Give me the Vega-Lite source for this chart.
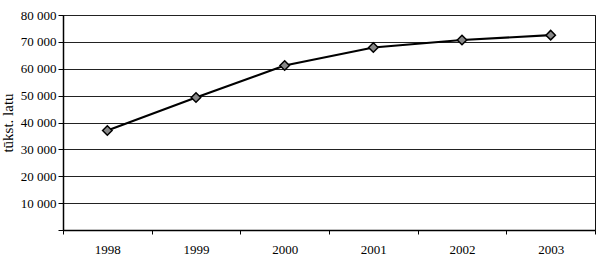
{
  "$schema": "https://vega.github.io/schema/vega-lite/v6.json",
  "width": 532,
  "height": 215,
  "autosize": {"type": "none"},
  "padding": {"left": 63, "top": 15, "right": 5, "bottom": 29},
  "background": "white",
  "config": {
    "font": "Liberation Serif",
    "view": {"stroke": "#111", "strokeWidth": 1},
    "axis": {"labelFont": "Liberation Serif", "titleFont": "Liberation Serif", "labelColor": "#000", "titleColor": "#000", "domainColor": "#000", "tickColor": "#000"}
  },
  "data": {
    "values": [
      {"year": "1998", "value": 37000},
      {"year": "1999", "value": 49300},
      {"year": "2000", "value": 61200},
      {"year": "2001", "value": 67900},
      {"year": "2002", "value": 70700},
      {"year": "2003", "value": 72500}
    ]
  },
  "encoding": {
    "x": {"field": "year", "type": "ordinal", "scale": {"type": "band", "paddingInner": 0, "paddingOuter": 0},
      "axis": {"title": null, "tickBand": "extent", "labelAngle": 0, "labelFontSize": 13, "labelPadding": 9, "tickSize": 4, "domainWidth": 1.5, "grid": false}},
    "y": {"field": "value", "type": "quantitative", "scale": {"domain": [0, 80000], "nice": false},
      "axis": {"title": "tūkst. latu", "titleFontSize": 15, "titleFontWeight": "normal", "titlePadding": 5, "values": [0, 10000, 20000, 30000, 40000, 50000, 60000, 70000, 80000],
        "labelOverlap": false,
        "labelExpr": "datum.value == 0 ? '' : replace(format(datum.value, ','), ',', ' ')", "labelFontSize": 13, "labelPadding": 2, "tickSize": 5, "domainWidth": 1.5,
        "grid": true, "gridColor": "#222", "gridWidth": 1, "gridOpacity": 1}}
  },
  "layer": [
    {
      "mark": {"type": "line", "color": "#000", "strokeWidth": 2.2}
    },
    {
      "mark": {"type": "point", "shape": "diamond", "filled": true, "fill": "#888", "stroke": "#000", "strokeWidth": 1.5, "size": 90, "opacity": 1}
    }
  ]
}
